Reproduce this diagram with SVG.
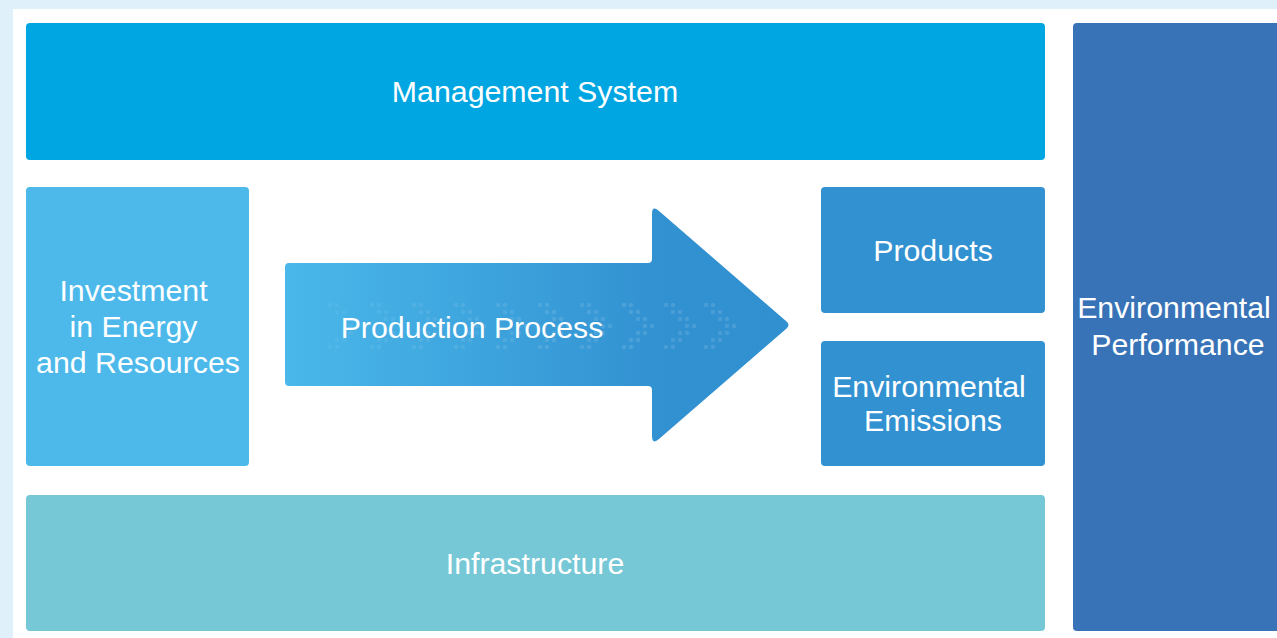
<svg xmlns="http://www.w3.org/2000/svg" width="1277" height="638" viewBox="0 0 1277 638">
  <defs>
    <linearGradient id="arrowGrad" x1="285" y1="0" x2="790" y2="0" gradientUnits="userSpaceOnUse">
      <stop offset="0" stop-color="#4ab8ea"/>
      <stop offset="0.75" stop-color="#3291d1"/>
      <stop offset="1" stop-color="#3190d0"/>
    </linearGradient>
    <g id="chev">
      <circle cx="0" cy="-21" r="2.3"/><circle cx="7" cy="-21" r="2.3"/>
      <circle cx="7" cy="-14" r="2.3"/><circle cx="14" cy="-14" r="2.3"/>
      <circle cx="14" cy="-7" r="2.3"/><circle cx="21" cy="-7" r="2.3"/>
      <circle cx="21" cy="0" r="2.3"/><circle cx="28" cy="0" r="2.3"/>
      <circle cx="14" cy="7" r="2.3"/><circle cx="21" cy="7" r="2.3"/>
      <circle cx="7" cy="14" r="2.3"/><circle cx="14" cy="14" r="2.3"/>
      <circle cx="0" cy="21" r="2.3"/><circle cx="7" cy="21" r="2.3"/>
    </g>
  </defs>
  <style>
    .lbl { font-family: "Liberation Sans", Arial, sans-serif; font-size: 30.3px; fill: #ffffff; text-anchor: middle; }
    .dots { fill: #ffffff; }
  </style>
  <rect x="0" y="0" width="1277" height="638" fill="#dff0fb"/>
  <rect x="13" y="9" width="1264" height="629" fill="#ffffff"/>

  <g id="management">
    <rect x="26" y="23" width="1019" height="137" rx="4" fill="#00a6e2"/>
    <text class="lbl" x="535" y="102">Management System</text>
  </g>

  <g id="investment">
    <rect x="26" y="187" width="223" height="279" rx="4" fill="#4db9eb"/>
    <text class="lbl" x="133.5" y="301">Investment</text>
    <text class="lbl" x="133.5" y="337">in Energy</text>
    <text class="lbl" x="138" y="373">and Resources</text>
  </g>

  <g id="production">
    <path d="M 289 263 H 648 Q 652 263 652 259 V 214 Q 652 205 659 211 L 786 321 Q 791 325 786 329 L 659 439 Q 652 445 652 436 V 390 Q 652 386 648 386 H 289 Q 285 386 285 382 V 267 Q 285 263 289 263 Z" fill="url(#arrowGrad)"/>
    <g class="dots">
      <use href="#chev" x="330" y="326" opacity="0.05"/>
      <use href="#chev" x="372" y="326" opacity="0.06"/>
      <use href="#chev" x="414" y="326" opacity="0.07"/>
      <use href="#chev" x="456" y="326" opacity="0.08"/>
      <use href="#chev" x="498" y="326" opacity="0.09"/>
      <use href="#chev" x="540" y="326" opacity="0.1"/>
      <use href="#chev" x="582" y="326" opacity="0.1"/>
      <use href="#chev" x="624" y="326" opacity="0.11"/>
      <use href="#chev" x="666" y="326" opacity="0.11"/>
      <use href="#chev" x="706" y="326" opacity="0.11"/>
    </g>
    <text class="lbl" x="472" y="338">Production Process</text>
  </g>

  <g id="products">
    <rect x="821" y="187" width="224" height="126" rx="4" fill="#3291d1"/>
    <text class="lbl" x="933" y="261">Products</text>
  </g>

  <g id="emissions">
    <rect x="821" y="341" width="224" height="125" rx="4" fill="#3291d1"/>
    <text class="lbl" x="929" y="397">Environmental</text>
    <text class="lbl" x="933" y="431">Emissions</text>
  </g>

  <g id="infrastructure">
    <rect x="26" y="495" width="1019" height="136" rx="4" fill="#77c8d6"/>
    <text class="lbl" x="535" y="574">Infrastructure</text>
  </g>

  <g id="performance">
    <rect x="1073" y="23" width="220" height="608" rx="4" fill="#3873b8"/>
    <text class="lbl" x="1174" y="318">Environmental</text>
    <text class="lbl" x="1178" y="355">Performance</text>
  </g>

  <g id="connectors"></g>
</svg>
